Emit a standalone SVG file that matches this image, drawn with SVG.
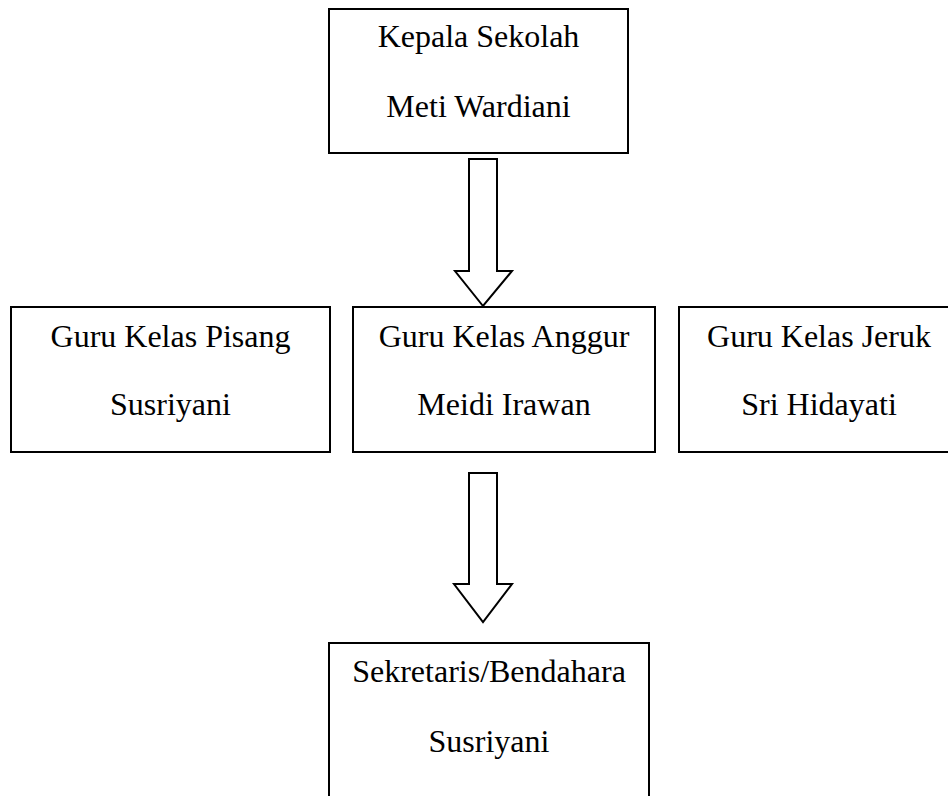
<svg xmlns="http://www.w3.org/2000/svg" width="948" height="796" viewBox="0 0 948 796">
  <style>
    .box { fill: #ffffff; stroke: #000000; stroke-width: 2; }
    .arrow { fill: #ffffff; stroke: #000000; stroke-width: 2; stroke-linejoin: miter; }
    .label { font-family: "Liberation Serif", "Times New Roman", serif; font-size: 32px; fill: #000000; text-anchor: middle; }
  </style>
  <rect x="0" y="0" width="948" height="796" fill="#ffffff"/>

  <!-- Head of school -->
  <g id="kepala-sekolah">
    <rect class="box" x="329" y="9" width="299" height="144"/>
    <text class="label" x="478.5" y="47">Kepala Sekolah</text>
    <text class="label" x="478.5" y="117">Meti Wardiani</text>
  </g>

  <!-- Class teachers -->
  <g id="guru-pisang">
    <rect class="box" x="11" y="307" width="319" height="145"/>
    <text class="label" x="170.5" y="347">Guru Kelas Pisang</text>
    <text class="label" x="170.5" y="415">Susriyani</text>
  </g>
  <g id="guru-anggur">
    <rect class="box" x="353" y="307" width="302" height="145"/>
    <text class="label" x="504" y="347">Guru Kelas Anggur</text>
    <text class="label" x="504" y="415">Meidi Irawan</text>
  </g>
  <g id="guru-jeruk">
    <rect class="box" x="679" y="307" width="280" height="145"/>
    <text class="label" x="819" y="347">Guru Kelas Jeruk</text>
    <text class="label" x="819" y="415">Sri Hidayati</text>
  </g>

  <!-- Secretary / treasurer -->
  <g id="sekretaris">
    <rect class="box" x="329" y="643" width="320" height="170"/>
    <text class="label" x="489" y="682">Sekretaris/Bendahara</text>
    <text class="label" x="489" y="752">Susriyani</text>
  </g>

  <!-- Block arrows -->
  <g id="connectors">
    <polygon class="arrow" points="469,159 497,159 497,271 512,271 483,306 455,271 469,271"/>
    <polygon class="arrow" points="469,473 497,473 497,584 512,584 483,622 454,584 469,584"/>
  </g>
</svg>
